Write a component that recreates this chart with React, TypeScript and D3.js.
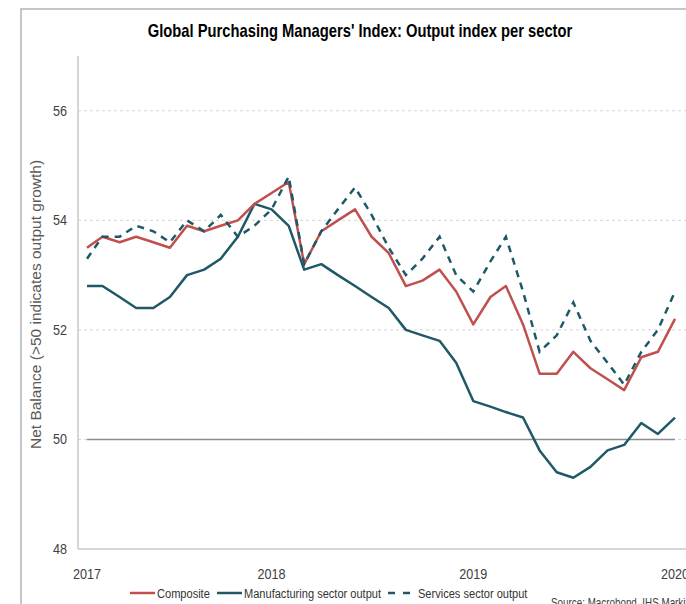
import React from 'react';
import * as d3 from 'd3';

// Monthly readings, Feb 2017 .. Jan 2020
const months: Date[] = d3.timeMonths(new Date(2017, 1, 1), new Date(2020, 0, 2));

const composite = [
  53.5, 53.7, 53.6, 53.7, 53.6, 53.5, 53.9, 53.8, 53.9, 54.0, 54.3, 54.5,
  54.7, 53.2, 53.8, 54.0, 54.2, 53.7, 53.4, 52.8, 52.9, 53.1, 52.7, 52.1,
  52.6, 52.8, 52.1, 51.2, 51.2, 51.6, 51.3, 51.1, 50.9, 51.5, 51.6, 52.2,
];
const manufacturing = [
  52.8, 52.8, 52.6, 52.4, 52.4, 52.6, 53.0, 53.1, 53.3, 53.7, 54.3, 54.2,
  53.9, 53.1, 53.2, 53.0, 52.8, 52.6, 52.4, 52.0, 51.9, 51.8, 51.4, 50.7,
  50.6, 50.5, 50.4, 49.8, 49.4, 49.3, 49.5, 49.8, 49.9, 50.3, 50.1, 50.4,
];
const services = [
  53.3, 53.7, 53.7, 53.9, 53.8, 53.6, 54.0, 53.8, 54.1, 53.7, 53.9, 54.2,
  54.8, 53.2, 53.8, 54.2, 54.6, 54.1, 53.5, 53.0, 53.3, 53.7, 53.0, 52.7,
  53.25, 53.7, 52.7, 51.6, 51.9, 52.5, 51.8, 51.4, 51.0, 51.6, 52.0, 52.7,
];

const yTicks = [48, 50, 52, 54, 56];
const yearTicks = [2017, 2018, 2019, 2020];
const seriesNames = ['Composite', 'Manufacturing sector output', 'Services sector output'];

const RED = '#c0504d';
const TEAL = '#1f5866';
const FONT = '"Liberation Sans", Arial, sans-serif';
const NARROW = 0.82; // no Arial Narrow installed, squeeze Liberation Sans instead

// text squeezed horizontally around its anchor point
const NText = ({ x, y, size, anchor = 'start', fill = '#404040', weight, children }: any) => (
  <text
    transform={`translate(${x},${y}) scale(${NARROW},1)`}
    textAnchor={anchor}
    fontSize={size}
    fontWeight={weight}
    fill={fill}
  >
    {children}
  </text>
);

export default function App() {
  const width = 686;
  const height = 604;
  const plot = { left: 78, top: 56, right: 686, bottom: 549 };

  const x = d3.scaleTime()
    .domain([months[0], months[months.length - 1]])
    .range([87, 675]);
  const y = d3.scaleLinear().domain([48, 57]).range([plot.bottom, plot.top]);

  const line = d3.line<number>()
    .x((_, i) => x(months[i]))
    .y(d => y(d));

  const baseline = line(months.map(() => 50)) as string;

  return (
    <svg
      width={width}
      height={height}
      style={{ position: 'absolute', left: 0, top: 0, background: '#fff' }}
      fontFamily={FONT}
    >
      {/* frame */}
      <path d={`M21,${height} V9 H${width}`} fill="none" stroke="#c6c6c6" strokeWidth={2} />

      <NText x={360} y={37} size={18} anchor="middle" weight="bold" fill="#000">
        Global Purchasing Managers' Index: Output index per sector
      </NText>

      {/* grid */}
      {yTicks.filter(t => t > 48).map(t => (
        <line key={t} x1={plot.left} x2={plot.right} y1={y(t)} y2={y(t)}
          stroke="#d4d4d4" strokeWidth={1} strokeDasharray="3 3" />
      ))}
      <line x1={plot.left} x2={plot.left} y1={plot.top} y2={plot.bottom} stroke="#c8c8c8" strokeWidth={1.5} />
      <line x1={plot.left} x2={plot.right} y1={plot.bottom} y2={plot.bottom} stroke="#c8c8c8" strokeWidth={1.5} />
      <path d={baseline} fill="none" stroke="#8c8c8c" strokeWidth={1.5} />

      {yTicks.map(t => (
        <NText key={t} x={67} y={y(t) + 5} size={15.4} anchor="end">{t}</NText>
      ))}
      {yearTicks.map(yr => (
        <NText key={yr} x={Math.max(x(new Date(yr, 0, 1)), 87)} y={579} size={15.4} anchor="middle">
          {yr}
        </NText>
      ))}

      <text transform={`translate(41,${(plot.top + plot.bottom) / 2 + 2}) rotate(-90)`} textAnchor="middle"
        fontSize={15.5} fill="#595959">
        Net Balance (&gt;50 indicates output growth)
      </text>

      {/* series */}
      <path d={line(manufacturing) as string} fill="none" stroke={TEAL} strokeWidth={2.5} strokeLinejoin="round" />
      <path d={line(composite) as string} fill="none" stroke={RED} strokeWidth={2.5} strokeLinejoin="round" />
      <path d={line(services) as string} fill="none" stroke={TEAL} strokeWidth={2.5} strokeDasharray="7 6" />

      {/* legend */}
      <line x1={130} x2={155} y1={593} y2={593} stroke={RED} strokeWidth={2.5} />
      <NText x={157} y={598} size={13.5} fill="#333">{seriesNames[0]}</NText>
      <line x1={217} x2={242} y1={593} y2={593} stroke={TEAL} strokeWidth={2.5} />
      <NText x={244} y={598} size={13.5} fill="#333">{seriesNames[1]}</NText>
      <line x1={388} x2={412} y1={593} y2={593} stroke={TEAL} strokeWidth={2.5} strokeDasharray="7 8" />
      <NText x={418} y={598} size={13.5} fill="#333">{seriesNames[2]}</NText>

      <NText x={551} y={607} size={12}>Source: Macrobond, IHS Markit</NText>
    </svg>
  );
}
